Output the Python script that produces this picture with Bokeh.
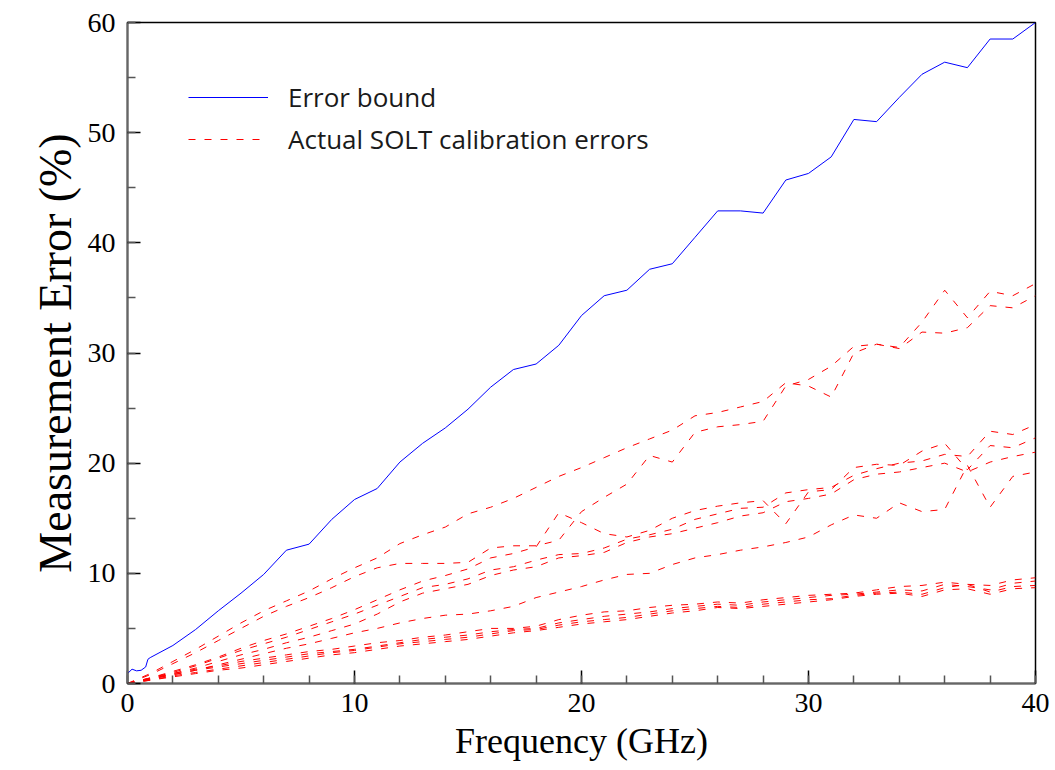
from bokeh.plotting import figure
from bokeh.models import Range1d, Legend, LegendItem, SingleIntervalTicker
from bokeh.embed import file_html
from bokeh.resources import INLINE

# ---------------- data ----------------
freq = list(range(0, 41))  # GHz

bound_freq = [0, 0.2, 0.4, 0.6, 0.8, 0.9] + list(range(1, 41))
bound = [0.9, 1.3, 1.15, 1.2, 1.5, 2.2,
         2.35, 3.45, 4.9, 6.6, 8.2, 9.9, 12.1, 12.65, 14.9, 16.7,
         17.7, 20.1, 21.8, 23.2, 24.9, 26.9, 28.5, 29.0, 30.7, 33.4,
         35.2, 35.7, 37.6, 38.1, 40.5, 42.9, 42.9, 42.7, 45.7, 46.3,
         47.8, 51.2, 51.0, 53.2, 55.3, 56.4, 55.9, 58.5, 58.5, 60.0]

err_a1 = [0, 0.9, 2.0, 3.1, 4.3, 5.5, 6.6, 7.5, 8.4, 9.5, 10.5,
          11.4, 12.7, 13.5, 14.2, 15.4, 16.0, 16.8, 17.8, 18.8, 19.6,
          20.5, 21.4, 22.2, 23.0, 24.3, 24.6, 25.1, 25.6, 27.3, 27.0,
          26.0, 30.0, 30.8, 30.5, 32.8, 35.7, 33.2, 35.6, 35.2, 36.3]
err_a2 = [0, 0.8, 1.8, 2.8, 3.9, 5.0, 6.1, 7.0, 7.8, 8.7, 9.7,
          10.5, 10.9, 10.9, 10.9, 11.0, 12.3, 12.5, 12.5, 13.0, 15.6,
          16.9, 18.1, 20.7, 20.1, 22.8, 23.3, 23.5, 23.8, 27.0, 27.6,
          28.8, 30.6, 30.8, 30.4, 31.9, 31.8, 32.3, 34.3, 34.1, 35.2]
err_b1 = [0, 0.5, 1.1, 1.7, 2.4, 3.2, 3.9, 4.5, 5.2, 5.9, 6.7,
          7.6, 8.5, 9.3, 9.8, 10.4, 11.4, 11.8, 12.4, 15.5, 14.6,
          13.6, 13.3, 13.9, 15.0, 15.7, 16.1, 16.4, 16.6, 14.5, 17.4,
          17.6, 19.6, 19.9, 19.8, 21.1, 21.8, 19.4, 21.6, 21.4, 22.3]
err_b2 = [0, 0.5, 1.0, 1.6, 2.3, 3.0, 3.6, 4.2, 4.9, 5.6, 6.3,
          7.1, 7.9, 8.7, 9.0, 9.5, 10.3, 10.6, 11.2, 11.7, 11.8,
          12.3, 13.1, 13.5, 14.0, 14.9, 15.4, 15.9, 16.0, 17.3, 17.6,
          17.8, 18.9, 19.5, 20.0, 20.2, 20.8, 20.6, 22.9, 22.6, 23.5]
err_b3 = [0, 0.4, 0.9, 1.4, 2.0, 2.6, 3.1, 3.7, 4.2, 4.8, 5.4,
          6.3, 7.4, 8.2, 8.6, 9.0, 9.8, 10.3, 10.6, 11.4, 11.6,
          11.9, 12.8, 13.3, 13.6, 14.1, 14.6, 15.2, 15.5, 16.5, 16.8,
          17.2, 18.5, 19.0, 19.2, 19.6, 20.0, 19.2, 20.1, 20.6, 21.0]
err_b4 = [0, 0.4, 0.8, 1.2, 1.7, 2.2, 2.7, 3.2, 3.6, 4.1, 4.6,
          5.0, 5.5, 5.9, 6.2, 6.3, 6.6, 7.0, 7.8, 8.3, 8.8,
          9.4, 9.9, 10.0, 10.8, 11.4, 11.7, 12.1, 12.4, 12.8, 13.3,
          14.4, 15.3, 15.0, 16.4, 15.6, 15.8, 19.8, 16.0, 18.8, 19.2]
err_c1 = [0, 0.5, 0.9, 1.3, 1.6, 2.0, 2.3, 2.6, 2.9, 3.1, 3.4,
          3.7, 3.9, 4.2, 4.4, 4.7, 5.0, 5.0, 5.2, 5.8, 6.2,
          6.5, 6.6, 6.9, 7.1, 7.2, 7.4, 7.3, 7.6, 7.8, 8.0,
          8.1, 8.2, 8.5, 8.8, 8.9, 9.2, 9.0, 8.9, 9.4, 9.6]
err_c2 = [0, 0.4, 0.8, 1.2, 1.5, 1.8, 2.1, 2.4, 2.7, 2.9, 3.1,
          3.4, 3.7, 4.0, 4.2, 4.4, 4.7, 4.9, 5.0, 5.5, 5.8,
          6.1, 6.3, 6.5, 6.8, 7.0, 7.2, 7.1, 7.4, 7.6, 7.8,
          8.0, 8.1, 8.3, 8.5, 8.4, 9.0, 8.8, 8.5, 9.1, 9.3]
err_c3 = [0, 0.3, 0.7, 1.0, 1.3, 1.6, 1.9, 2.2, 2.5, 2.8, 3.0,
          3.3, 3.6, 3.8, 4.0, 4.2, 4.5, 4.8, 4.9, 5.3, 5.6,
          5.8, 6.0, 6.3, 6.6, 6.8, 7.0, 6.9, 7.2, 7.4, 7.6,
          7.7, 8.0, 8.2, 8.3, 8.1, 8.7, 9.0, 8.3, 8.8, 8.9]
err_c4 = [0, 0.3, 0.6, 0.9, 1.2, 1.4, 1.7, 2.0, 2.3, 2.6, 2.8,
          3.1, 3.4, 3.6, 3.8, 4.0, 4.3, 4.6, 4.8, 5.1, 5.4,
          5.6, 5.8, 6.1, 6.4, 6.6, 6.9, 6.8, 7.0, 7.2, 7.4,
          7.6, 7.9, 8.1, 8.2, 7.9, 8.5, 8.6, 8.1, 8.6, 8.7]

solt_errors = [err_a1, err_a2, err_b1, err_b2, err_b3, err_b4,
               err_c1, err_c2, err_c3, err_c4]

x_ticks_major = 10
y_ticks_major = 10

# ---------------- figure ----------------
p = figure(width=1055, height=770, output_backend="svg", toolbar_location=None,
           x_range=Range1d(0, 40), y_range=Range1d(0, 60),
           min_border_left=127, min_border_right=20,
           min_border_top=22, min_border_bottom=87)

p.xgrid.visible = False
p.ygrid.visible = False
p.background_fill_color = "white"
p.border_fill_color = "white"
p.outline_line_color = "black"
p.outline_line_width = 1.5

p.xaxis.ticker = SingleIntervalTicker(interval=x_ticks_major, num_minor_ticks=5)
p.yaxis.ticker = SingleIntervalTicker(interval=y_ticks_major, num_minor_ticks=2)

for ax in (p.xaxis, p.yaxis):
    ax.major_tick_in = 13
    ax.major_tick_out = 0
    ax.minor_tick_in = 8
    ax.minor_tick_out = 0
    ax.axis_line_color = "#666666"
    ax.axis_line_width = 2
    ax.major_tick_line_color = "black"
    ax.major_tick_line_width = 1.5
    ax.minor_tick_line_color = "#555555"
    ax.minor_tick_line_width = 1.5
    ax.major_label_text_font = "Liberation Serif"
    ax.major_label_text_font_size = "28px"
    ax.major_label_text_color = "black"
    ax.axis_label_text_font = "Liberation Serif"
    ax.axis_label_text_font_style = "normal"
    ax.axis_label_text_color = "black"

p.xaxis.major_label_standoff = 10
p.yaxis.major_label_standoff = 12
p.xaxis.axis_label = "Frequency (GHz)"
p.yaxis.axis_label = "Measurement Error (%)"
p.xaxis.axis_label_text_font_size = "36px"
p.yaxis.axis_label_text_font_size = "46px"
p.xaxis.axis_label_standoff = 6
p.yaxis.axis_label_standoff = 4

# ---------------- lines ----------------
red_renderers = []
for series in solt_errors:
    r = p.line(freq, series, line_color="#ff0000", line_width=1,
               line_dash="7 9")
    red_renderers.append(r)

rb = p.line(bound_freq, bound, line_color="#0000ff", line_width=1)

legend = Legend(items=[
    LegendItem(label="Error bound", renderers=[rb]),
    LegendItem(label="Actual SOLT calibration errors", renderers=[red_renderers[0]]),
], location=(61, 526))
legend.glyph_width = 80
legend.glyph_height = 30
legend.label_height = 30
legend.label_standoff = 20
legend.spacing = 6
legend.padding = 0
legend.margin = 0
legend.border_line_alpha = 0
legend.background_fill_alpha = 0
legend.label_text_font = "Open Sans"
legend.label_text_font_size = "26px"
legend.label_text_color = "#1a1a1a"
p.add_layout(legend)

open("out.html", "w").write(file_html(p, INLINE))
